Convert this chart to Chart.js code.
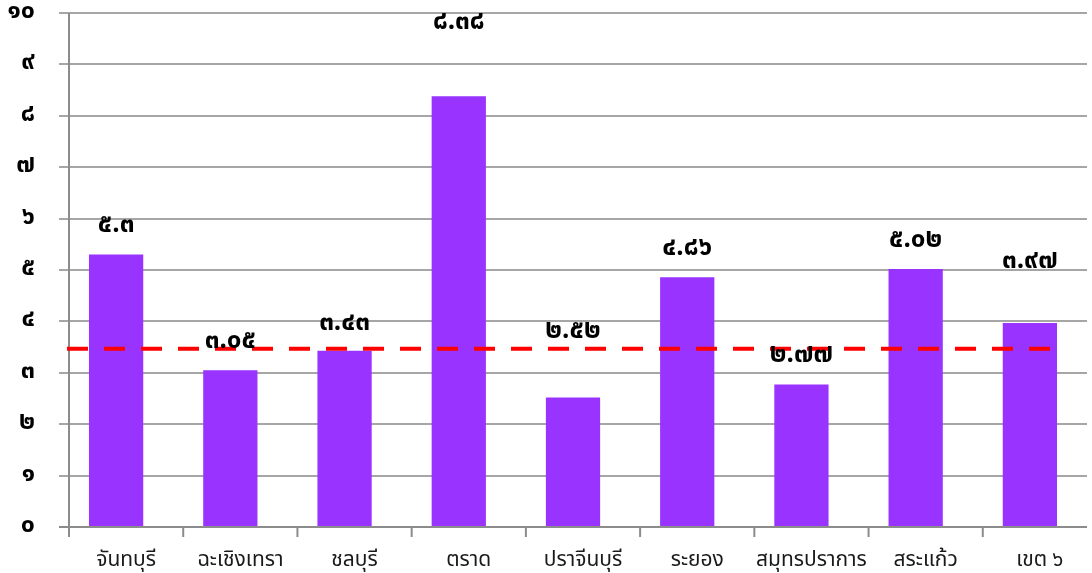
<!DOCTYPE html>
<html lang="th">
<head>
<meta charset="utf-8">
<script src="https://cdn.jsdelivr.net/npm/chart.js@4.4.1/dist/chart.umd.min.js"></script>
<style>
  html, body { margin: 0; padding: 0; background: #ffffff; overflow: hidden; }
  #wrap { width: 1092px; height: 573px; position: relative; }
</style>
</head>
<body>
<div id="wrap"><canvas id="c"></canvas></div>
<script>
// Provinces of health region 6 plus the regional total
const categories = ['จันทบุรี', 'ฉะเชิงเทรา', 'ชลบุรี', 'ตราด', 'ปราจีนบุรี', 'ระยอง', 'สมุทรปราการ', 'สระแก้ว', 'เขต ๖'];
const rates = [5.3, 3.05, 3.43, 8.38, 2.52, 4.86, 2.77, 5.02, 3.97];
const targetRate = 3.47;
const yTicks = [0, 1, 2, 3, 4, 5, 6, 7, 8, 9, 10];

const thaiDigits = ['๐', '๑', '๒', '๓', '๔', '๕', '๖', '๗', '๘', '๙'];
const toThai = s => String(s).replace(/[0-9]/g, d => thaiDigits[+d]);

const FONT = '"Noto Sans Thai", "Tahoma", "Loma", "Garuda", "Noto Sans", sans-serif';

// how far above each bar top its value label sits (px)
const labelLift = [28, 27, 26, 73, 65, 27, 28, 27, 60];
// category axis sits this many px right of the bar slots
const AXIS_SHIFT = 10;

const overlay = {
  id: 'overlay',
  afterDatasetsDraw(chart) {
    const ctx = chart.ctx;
    const y = chart.scales.y;
    const area = chart.chartArea;
    const slot = (area.right - area.left) / categories.length;
    ctx.save();
    // value axis line and category tick marks
    ctx.strokeStyle = '#8c8c8c';
    ctx.lineWidth = 2;
    ctx.beginPath();
    ctx.moveTo(area.left + AXIS_SHIFT, area.top);
    ctx.lineTo(area.left + AXIS_SHIFT, area.bottom + 10);
    for (let k = 0; k <= categories.length; k++) {
      const bx = area.left + AXIS_SHIFT + k * slot;
      ctx.moveTo(bx, area.bottom);
      ctx.lineTo(bx, area.bottom + 10);
    }
    ctx.moveTo(area.left, area.bottom);
    ctx.lineTo(area.right, area.bottom);
    ctx.stroke();

    // target line
    const meta = chart.getDatasetMeta(0);
    const last = meta.data[meta.data.length - 1];
    const ty = y.getPixelForValue(targetRate);
    ctx.strokeStyle = '#ff0000';
    ctx.lineWidth = 4;
    ctx.setLineDash([21, 16]);
    ctx.beginPath();
    ctx.moveTo(area.left + 8, ty);
    ctx.lineTo(last.x + last.width / 2, ty);
    ctx.stroke();
    ctx.setLineDash([]);

    // value labels
    ctx.fillStyle = '#000000';
    ctx.font = 'bold 26px ' + FONT;
    ctx.textAlign = 'center';
    ctx.textBaseline = 'middle';
    meta.data.forEach((bar, i) => {
      ctx.fillText(toThai(rates[i]), bar.x, bar.y - labelLift[i]);
    });
    ctx.restore();
  }
};

new Chart(document.getElementById('c'), {
  type: 'bar',
  data: {
    labels: categories,
    datasets: [{
      data: rates,
      backgroundColor: '#9933ff',
      borderWidth: 0,
      categoryPercentage: 1,
      barPercentage: 0.475
    }]
  },
  options: {
    responsive: true,
    maintainAspectRatio: false,
    animation: false,
    layout: { padding: { top: 13, right: 5, left: 0, bottom: 0 } },
    plugins: { legend: { display: false }, tooltip: { enabled: false } },
    scales: {
      x: {
        afterFit(scale) {
          scale.height = 46;
          scale.paddingLeft = 0;
          scale.paddingRight = 0;
        },
        grid: { display: false },
        border: { display: false },
        ticks: {
          color: '#1a1a1a',
          font: { family: FONT, size: 21 },
          labelOffset: AXIS_SHIFT,
          padding: 14,
          maxRotation: 0,
          autoSkip: false
        }
      },
      y: {
        min: 0,
        max: 10,
        afterBuildTicks(scale) { scale.ticks = yTicks.map(v => ({ value: v })); },
        afterFit(scale) {
          scale.width = 59;
          scale.paddingTop = 0;
          scale.paddingBottom = 0;
        },
        grid: { color: '#a6a6a6', lineWidth: 2, drawTicks: false },
        border: { display: false },
        ticks: {
          color: '#000000',
          font: { family: FONT, size: 25, weight: 'bold' },
          padding: 24,
          callback: v => toThai(v)
        }
      }
    }
  },
  plugins: [overlay]
});
</script>
</body>
</html>
